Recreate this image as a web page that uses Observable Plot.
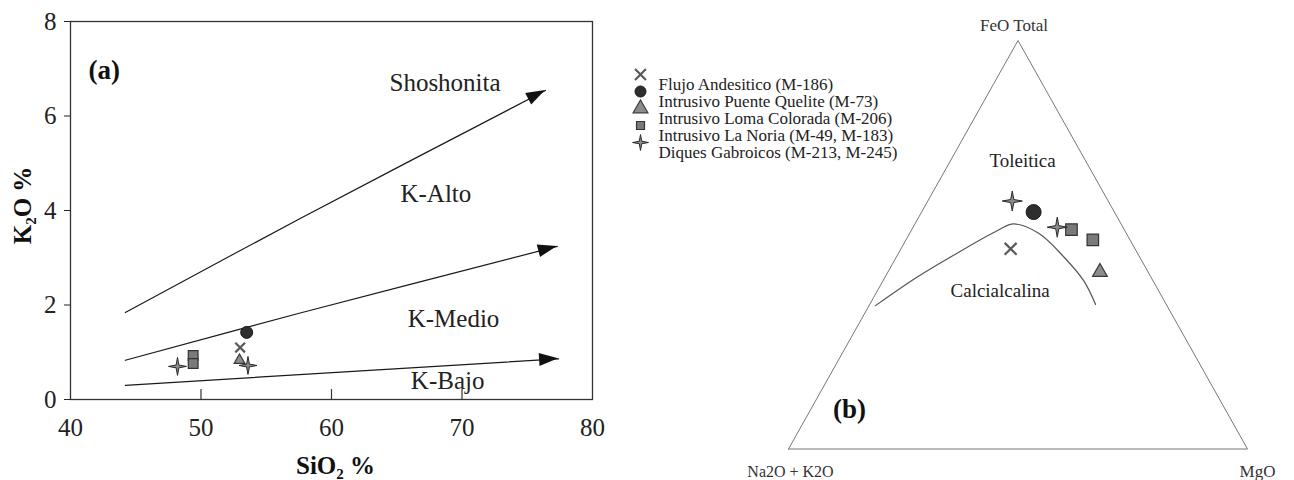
<!DOCTYPE html>
<html>
<head>
<meta charset="utf-8">
<script src="https://cdn.jsdelivr.net/npm/d3@7"></script>
<script src="https://cdn.jsdelivr.net/npm/@observablehq/plot@0.6"></script>
<style>
  html, body { margin: 0; padding: 0; background: #fff; }
  #wrap { position: relative; width: 1294px; height: 480px; overflow: hidden; }
  #wrap > div { position: absolute; }
  #pa { left: 0; top: 0; width: 610px; height: 480px; }
  #leg { left: 620px; top: 55px; width: 300px; height: 120px; }
  #pb { left: 740px; top: 0; width: 554px; height: 480px; }
  #wrap svg { overflow: visible; font-family: "Liberation Serif", "Times New Roman", serif; }
</style>
</head>
<body>
<div id="wrap"><div id="pa"></div><div id="leg"></div><div id="pb"></div></div>
<script>
// ---------------- data ----------------
const groups = [
  "Flujo Andesitico (M-186)",
  "Intrusivo Puente Quelite (M-73)",
  "Intrusivo Loma Colorada (M-206)",
  "Intrusivo La Noria (M-49, M-183)",
  "Diques Gabroicos (M-213, M-245)"
];
// one entry per sample
const sampleGroup = [0, 1, 2, 3, 3, 4, 4];
const sio2 = [53.0, 53.5, 52.95, 49.4, 49.4, 48.2, 53.6];
const k2o  = [1.10, 1.42, 0.83, 0.93, 0.76, 0.70, 0.72];
// AFM ternary (%): A = Na2O+K2O, F = FeO total, M = MgO
const afmA = [27.1, 17.6, 10.5, 11.5, 8.1, 20.9, 14.3];
const afmF = [49.0, 58.0, 43.3, 53.7, 51.2, 60.7, 54.3];
const afmM = [23.9, 24.4, 46.2, 34.8, 40.7, 18.4, 31.4];

// K2O-SiO2 series boundaries (arrows)
const boundarySiO2 = [[44.2, 57.6, 76.4], [44.2, 57.6, 77.3], [44.2, 77.4]];
const boundaryK2O  = [[1.84, 3.83, 6.54], [0.83, 1.83, 3.24], [0.30, 0.86]];
const seriesLabels = ["Shoshonita", "K-Alto", "K-Medio", "K-Bajo"];
const seriesLabelSiO2 = [68.7, 68.0, 69.35, 68.9];
const seriesLabelK2O  = [6.69, 4.34, 1.71, 0.40];

const xTicks = [40, 50, 60, 70, 80];
const xInnerTicks = [50, 60, 70];
const yTicks = [0, 2, 4, 6, 8];

// Tholeiitic / calc-alkaline boundary in AFM
const curveA = [63.5, 50.9, 41.2, 27.7, 23.4, 19.1, 16.5, 15.1, 15.4];
const curveF = [35.1, 42.1, 47.0, 53.5, 55.1, 52.8, 47.0, 41.2, 35.4];
const curveM = [1.4, 7.0, 11.8, 18.8, 21.5, 28.1, 36.5, 43.7, 49.2];
const vertexNames = ["Na2O + K2O", "FeO Total", "MgO"];
const vertexA = [100, 0, 0], vertexF = [0, 100, 0], vertexM = [0, 0, 100];
const fieldLabels = ["Toleitica", "Calcialcalina"];
const fieldA = [13.7, 34.5], fieldF = [70.6, 38.8], fieldM = [15.7, 26.7];

// ---------------- helpers ----------------
const tern = (A, F, M) => { const s = A + F + M; return {tx: (M + F / 2) / s, ty: F / s}; };

const samples = sampleGroup.map((g, i) => ({
  g, group: groups[g], sio2: sio2[i], k2o: k2o[i], ...tern(afmA[i], afmF[i], afmM[i])
}));

const star4 = {
  draw(ctx, size) {
    const R = Math.sqrt(size / Math.PI) * 1.5, r = R * 0.22;
    for (let i = 0; i < 8; i++) {
      const a = i * Math.PI / 4 - Math.PI / 2, rr = i % 2 ? r : R;
      const x = rr * Math.cos(a), y = rr * Math.sin(a);
      if (i) ctx.lineTo(x, y); else ctx.moveTo(x, y);
    }
    ctx.closePath();
  }
};

const symbolStyle = [
  {symbol: "times", fill: "none", stroke: "#5a5a5a", strokeWidth: 2.2},
  {symbol: "circle", fill: "#2e2e2e", stroke: "#1a1a1a", strokeWidth: 1},
  {symbol: "triangle", fill: "#8c8c8c", stroke: "#3a3a3a", strokeWidth: 1.2},
  {symbol: "square", fill: "#7a7a7a", stroke: "#333", strokeWidth: 1.2},
  {symbol: star4, fill: "#8a8a8a", stroke: "#2a2a2a", strokeWidth: 1}
];
const sizeA = [4.5, 6, 4, 5.5, 6];
const sizeB = [5.5, 7.5, 5.5, 6.5, 6.7];
const sizeL = [5, 5.5, 5.5, 4.5, 5.3];

function arrowHeads(xs, ys, len, halfW) {
  return (index, scales) => {
    const sx = scales.x, sy = scales.y;
    const g = d3.create("svg:g").attr("fill", "#111").attr("stroke", "none");
    xs.forEach((xv, i) => {
      const n = xv.length;
      const x1 = sx(xv[n - 2]), y1 = sy(ys[i][n - 2]);
      const x2 = sx(xv[n - 1]), y2 = sy(ys[i][n - 1]);
      const a = Math.atan2(y2 - y1, x2 - x1);
      const bx = x2 - len * Math.cos(a), by = y2 - len * Math.sin(a);
      const px = -Math.sin(a) * halfW, py = Math.cos(a) * halfW;
      g.append("path").attr("d", `M${x2},${y2}L${bx + px},${by + py}L${bx - px},${by - py}Z`);
    });
    return g.node();
  };
}

const font = "Liberation Serif, Times New Roman, serif";

// ---------------- panel (a) ----------------
const boundaryData = boundarySiO2.map((xs, i) => xs.map((x, j) => ({id: i, x, y: boundaryK2O[i][j]}))).flat();
const labelData = seriesLabels.map((t, i) => ({t, x: seriesLabelSiO2[i], y: seriesLabelK2O[i]}));

const plotA = Plot.plot({
  width: 610, height: 480,
  marginLeft: 70, marginRight: 18, marginTop: 21, marginBottom: 81,
  style: {fontFamily: font, fontSize: "25px", color: "#222", background: "transparent", overflow: "visible"},
  x: {domain: [40, 80], ticks: xTicks, tickSize: 0, tickPadding: 19, label: null},
  y: {domain: [0, 8], ticks: yTicks, tickSize: 6, tickPadding: 8, label: null},
  marks: [
    Plot.frame({stroke: "#333", strokeWidth: 1.3}),
    Plot.ruleX(xInnerTicks, {y1: 0, y2: 0.21, stroke: "#333", strokeWidth: 1.2}),
    Plot.line(boundaryData, {x: "x", y: "y", z: "id", stroke: "#1a1a1a", strokeWidth: 1.2, curve: "catmull-rom"}),
    arrowHeads(boundarySiO2, boundaryK2O, 19, 6.5),
    Plot.text(labelData, {x: "x", y: "y", text: "t", fontSize: 25, fill: "#222"}),
    Plot.text(["(a)"], {frameAnchor: "top-left", dx: 18, dy: 49, textAnchor: "start", lineAnchor: "middle", fontWeight: "bold", fontSize: 27, fill: "#111"}),
    Plot.text(["K₂O %"], {frameAnchor: "left", dx: -48, dy: -5, rotate: -90, textAnchor: "middle", lineAnchor: "middle", fontWeight: "bold", fontSize: 25, fill: "#111"}),
    Plot.text(["SiO₂ %"], {frameAnchor: "bottom", dx: 4, dy: 66, textAnchor: "middle", lineAnchor: "middle", fontWeight: "bold", fontSize: 25, fill: "#111"}),
    ...groups.map((name, g) => Plot.dot(samples.filter(s => s.g === g), {
      x: "sio2", y: "k2o", r: sizeA[g], ...symbolStyle[g]
    }))
  ]
});
document.getElementById("pa").appendChild(plotA);

// ---------------- legend ----------------
const legend = Plot.plot({
  width: 300, height: 120,
  marginLeft: 20, marginRight: 0, marginTop: 28, marginBottom: 22,
  style: {fontFamily: font, fontSize: "17px", color: "#222", background: "transparent", overflow: "visible"},
  y: {type: "point", domain: groups, padding: 0, axis: null},
  marks: [
    ...groups.map((name, g) => Plot.dot([name], {y: d => d, frameAnchor: "left", dy: -10, r: sizeL[g], ...symbolStyle[g]})),
    Plot.text(groups, {y: d => d, text: d => d, frameAnchor: "left", dx: 18, textAnchor: "start", lineAnchor: "middle", fontSize: 17, fill: "#222"})
  ]
});
document.getElementById("leg").appendChild(legend);

// ---------------- panel (b) ----------------
const vertices = vertexNames.map((n, i) => ({n, ...tern(vertexA[i], vertexF[i], vertexM[i])}));
const outline = [...vertices, vertices[0]];
const curvePts = curveA.map((a, i) => tern(a, curveF[i], curveM[i]));
const fields = fieldLabels.map((t, i) => ({t, ...tern(fieldA[i], fieldF[i], fieldM[i])}));

const plotB = Plot.plot({
  width: 554, height: 480,
  marginLeft: 48, marginRight: 47, marginTop: 40, marginBottom: 31.5,
  style: {fontFamily: font, fontSize: "18px", color: "#222", background: "transparent", overflow: "visible"},
  x: {domain: [0, 1], axis: null},
  y: {domain: [0, 1], axis: null},
  marks: [
    Plot.line(outline, {x: "tx", y: "ty", stroke: "#777", strokeWidth: 1}),
    Plot.line(curvePts, {x: "tx", y: "ty", stroke: "#555", strokeWidth: 1.2, curve: "catmull-rom"}),
    ...groups.map((name, g) => Plot.dot(samples.filter(s => s.g === g), {
      x: "tx", y: "ty", r: sizeB[g], ...symbolStyle[g]
    })),
    Plot.text(fields, {x: "tx", y: "ty", text: "t", fontSize: 19, fill: "#222"}),
    Plot.text([vertices[0]], {x: "tx", y: "ty", text: "n", dx: 2, dy: 23, fontSize: 16, fill: "#333"}),
    Plot.text([vertices[1]], {x: "tx", y: "ty", text: "n", dx: -4, dy: -15, fontSize: 17, fill: "#333"}),
    Plot.text([vertices[2]], {x: "tx", y: "ty", text: "n", dx: 10, dy: 23, fontSize: 17, fill: "#333"}),
    Plot.text(["(b)"], {frameAnchor: "bottom-left", dx: 61, dy: -40, textAnchor: "middle", lineAnchor: "middle", fontWeight: "bold", fontSize: 27, fill: "#111"})
  ]
});
document.getElementById("pb").appendChild(plotB);
</script>
</body>
</html>
